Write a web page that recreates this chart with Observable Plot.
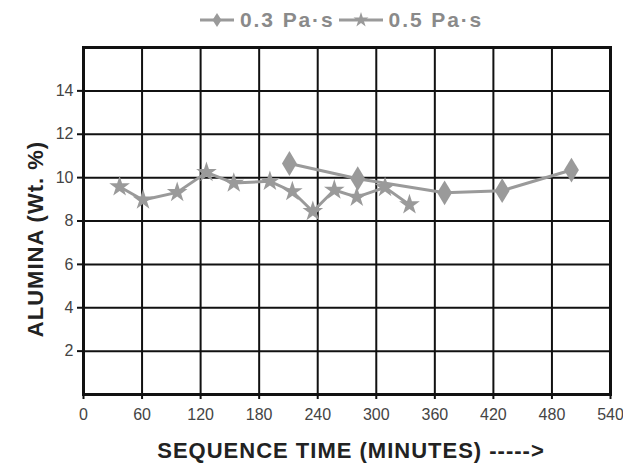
<!DOCTYPE html>
<html>
<head>
<meta charset="utf-8">
<script src="https://cdn.jsdelivr.net/npm/d3@7"></script>
<script src="https://cdn.jsdelivr.net/npm/@observablehq/plot@0.6"></script>
<style>
  html, body { margin: 0; padding: 0; background: #fff; }
  body { width: 623px; height: 466px; overflow: hidden; font-family: "Liberation Sans", Arial, sans-serif; }
  #legend { height: 36px; display: flex; align-items: center; justify-content: flex-start; gap: 4px;
            color: #8a8a8a; font-weight: bold; font-size: 21px; letter-spacing: 1.9px; padding-left: 200px; padding-top: 4px; box-sizing: border-box; }
  #legend .item { display: flex; align-items: center; gap: 6px; }
  #legend svg { display: block; }
</style>
</head>
<body>
<div id="legend"></div>
<div id="chart"></div>
<script>
// Series names
const seriesNames = ["0.3 Pa·s", "0.5 Pa·s"];

// 0.3 Pa·s (diamond markers)
const timeA = [211, 281, 370, 429, 500];
const aluminaA = [10.65, 9.95, 9.3, 9.4, 10.35];

// 0.5 Pa·s (star markers)
const timeB = [37, 61, 96, 126, 154, 191, 214, 235, 257, 280, 309, 334];
const aluminaB = [9.58, 8.97, 9.32, 10.24, 9.75, 9.83, 9.36, 8.44, 9.43, 9.1, 9.55, 8.75];

// Tick values
const xTicks = [0, 60, 120, 180, 240, 300, 360, 420, 480, 540];
const yTicks = [2, 4, 6, 8, 10, 12, 14];

const dataA = timeA.map((t, i) => ({t, v: aluminaA[i]}));
const dataB = timeB.map((t, i) => ({t, v: aluminaB[i]}));

const gray = "#9a9a9a";

// Legend
const legend = document.getElementById("legend");
seriesNames.forEach((name, i) => {
  const item = document.createElement("div");
  item.className = "item";
  const w = i === 0 ? 34 : 44;
  const path = i === 0 ? "M0,-7L4.5,0L0,7L-4.5,0Z" : d3.symbol(d3.symbolStar, 70)();
  item.innerHTML = `<svg width="${w}" height="18"><line x1="0" x2="${w}" y1="9" y2="9" stroke="${gray}" stroke-width="3"/>` +
    `<path transform="translate(${w/2},9)" d="${path}" fill="${gray}"/></svg><span>${name}</span>`;
  legend.appendChild(item);
});

const diamondSymbol = {draw(ctx, size) { const r = Math.sqrt(size); ctx.moveTo(0, -r); ctx.lineTo(r*0.6, 0); ctx.lineTo(0, r); ctx.lineTo(-r*0.6, 0); ctx.closePath(); }};

const chart = Plot.plot({
  width: 623,
  height: 430,
  marginLeft: 83,
  marginRight: 13,
  marginTop: 11,
  marginBottom: 72,
  style: {fontFamily: "Liberation Sans, Arial, sans-serif", fontSize: "16px", color: "#444", background: "#fff"},
  x: {domain: [0, 540], ticks: xTicks, label: null},
  y: {domain: [0, 16], ticks: yTicks, label: null},
  marks: [
    Plot.ruleX(xTicks.slice(1, -1), {stroke: "#111", strokeWidth: 2}),
    Plot.ruleY(yTicks, {stroke: "#111", strokeWidth: 2}),
    Plot.frame({stroke: "#111", strokeWidth: 3}),
    Plot.axisX({ticks: xTicks, tickSize: 5, tickPadding: 9, stroke: "#111", strokeWidth: 2, fill: "#444", label: null}),
    Plot.axisY({ticks: yTicks, tickSize: 6, tickPadding: 4, stroke: "#111", strokeWidth: 2, fill: "#444", label: null}),
    Plot.line(dataA, {x: "t", y: "v", stroke: gray, strokeWidth: 3}),
    Plot.line(dataB, {x: "t", y: "v", stroke: gray, strokeWidth: 3}),
    Plot.dot(dataA, {x: "t", y: "v", symbol: diamondSymbol, r: 7, fill: gray, stroke: "none"}),
    Plot.dot(dataB, {x: "t", y: "v", symbol: "star", r: 6.5, fill: gray, stroke: "none"}),
    Plot.text(["ALUMINA (Wt. %)"], {frameAnchor: "left", textAnchor: "middle", lineAnchor: "middle", rotate: -90, dx: -48, dy: 18, fontSize: 22, fontWeight: "bold", fill: "#222"}),
    Plot.text(["SEQUENCE TIME (MINUTES) ----->"], {frameAnchor: "bottom", textAnchor: "middle", lineAnchor: "middle", dy: 56, dx: 4, fontSize: 22, fontWeight: "bold", fill: "#222"})
  ]
});
chart.querySelectorAll("text").forEach(t => {
  if (t.textContent.startsWith("SEQUENCE") || t.textContent.startsWith("ALUMINA")) t.style.letterSpacing = "1px";
});
document.getElementById("chart").appendChild(chart);
</script>
</body>
</html>
